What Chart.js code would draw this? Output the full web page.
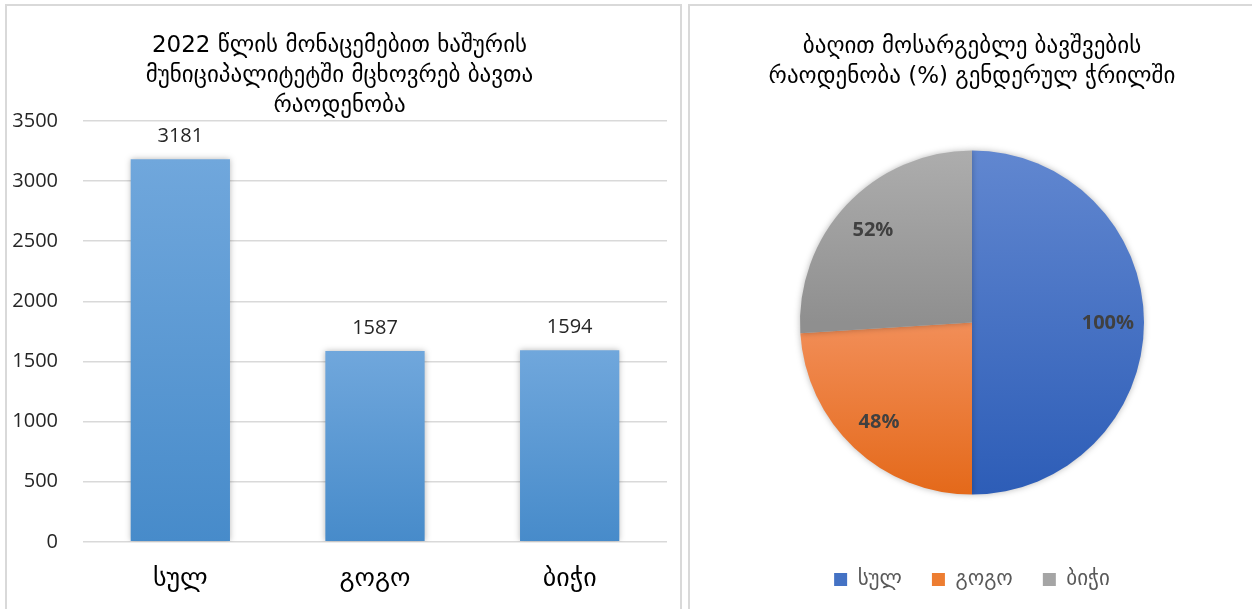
<!DOCTYPE html>
<html>
<head>
<meta charset="utf-8">
<script src="https://cdn.jsdelivr.net/npm/chart.js@4/dist/chart.umd.min.js"></script>
<style>
  html,body{margin:0;padding:0;background:#fff;}
  body{width:1252px;height:609px;overflow:hidden;position:relative;}
  .panel{position:absolute;box-sizing:border-box;border:2px solid #d9d9d9;}
  #leftPanel{left:5px;top:4px;width:677px;height:650px;}
  #rightPanel{left:688px;top:4px;width:620px;height:650px;}
  canvas{position:absolute;top:0;}
  #barChart{left:0;}
  #pieChart{left:686px;}
</style>
</head>
<body>
<div class="panel" id="leftPanel"></div>
<div class="panel" id="rightPanel"></div>
<canvas id="barChart" width="684" height="609"></canvas>
<canvas id="pieChart" width="572" height="640"></canvas>
<script>
// data
const barTitle = ['2022 წლის მონაცემებით ხაშურის', 'მუნიციპალიტეტში მცხოვრებ ბავთა', 'რაოდენობა'];
const categories = ['სულ', 'გოგო', 'ბიჭი'];
const childCounts = [3181, 1587, 1594];
const yMax = 3500;
const yStep = 500;

const pieTitle = ['ბაღით მოსარგებლე ბავშვების', 'რაოდენობა (%) გენდერულ ჭრილში'];
const pieLabels = ['სულ', 'გოგო', 'ბიჭი'];
const piePercents = [100, 48, 52];

const FONT = "'Open Sans', 'DejaVu Sans', sans-serif";
const GEO = "'DejaVu Sans', 'Open Sans', sans-serif";
const PIE_R = 172;

// soft shadow under bars / slices, like the office chart
const shadowPlugin = {
  id:'softShadow',
  beforeDatasetsDraw(chart){
    const c = chart.ctx; c.save();
    c.shadowColor = 'rgba(0,0,0,0.28)'; c.shadowBlur = 6; c.shadowOffsetX = 0; c.shadowOffsetY = 0;
  },
  afterDatasetsDraw(chart){ chart.ctx.restore(); }
};

// value labels above bars
const barValuePlugin = {
  id:'barValues',
  afterDatasetsDraw(chart){
    const c = chart.ctx;
    const meta = chart.getDatasetMeta(0);
    c.save();
    c.font = '20px ' + FONT; c.fillStyle = '#262626';
    c.textAlign = 'center'; c.textBaseline = 'middle';
    meta.data.forEach((bar,i)=>{ c.fillText(String(childCounts[i]), bar.x, bar.y - 23); });
    c.restore();
  }
};

// percent labels inside slices
const pieValuePlugin = {
  id:'pieValues',
  afterDatasetsDraw(chart){
    const c = chart.ctx;
    const meta = chart.getDatasetMeta(0);
    c.save();
    c.font = 'bold 20px ' + FONT; c.fillStyle = '#404040';
    c.textAlign = 'center'; c.textBaseline = 'middle';
    meta.data.forEach((arc,i)=>{
      const mid = (arc.startAngle + arc.endAngle)/2;
      const r = arc.outerRadius*0.79;
      c.fillText(piePercents[i] + '%', arc.x + Math.cos(mid)*r, arc.y + Math.sin(mid)*r + 1);
    });
    c.restore();
  }
};

function barFill(ctx){
  const chart = ctx.chart;
  if(!chart.chartArea || !chart.scales.y) return '#5b9bd5';
  const ys = chart.scales.y;
  const top = ys.getPixelForValue(childCounts[ctx.dataIndex]);
  const bottom = ys.getPixelForValue(0);
  const g = chart.ctx.createLinearGradient(0, top, 0, bottom);
  g.addColorStop(0, '#70a7dc');
  g.addColorStop(1, '#478bca');
  return g;
}

const pieGrad = [['#6187d0','#2d5db7'], ['#f28e58','#e4691a'], ['#adadad','#8f8f8f']];
function pieFill(ctx){
  const chart = ctx.chart;
  const a = chart.chartArea;
  const flat = ['#4472c4','#ed7d31','#a5a5a5'][ctx.dataIndex];
  if(!a) return flat;
  const cy = (a.top + a.bottom)/2;
  let y0 = cy - PIE_R, y1 = cy + PIE_R;
  if(ctx.dataIndex === 1) y0 = cy;
  if(ctx.dataIndex === 2) y1 = cy;
  const g = chart.ctx.createLinearGradient(0, y0, 0, y1);
  g.addColorStop(0, pieGrad[ctx.dataIndex][0]);
  g.addColorStop(1, pieGrad[ctx.dataIndex][1]);
  return g;
}

function renderBar(){
  new Chart(document.getElementById('barChart').getContext('2d'), {
    type:'bar',
    data:{labels:categories, datasets:[{data:childCounts, backgroundColor:barFill, borderWidth:0, categoryPercentage:1, barPercentage:0.51}]},
    options:{
      responsive:false, animation:false,
      layout:{padding:{left:12, right:17, top:0, bottom:0}},
      plugins:{
        legend:{display:false}, tooltip:{enabled:false},
        title:{display:true, text:barTitle, color:'#000', font:{family:GEO, size:23, weight:'normal', lineHeight:30/23}, padding:{top:31, bottom:0}}
      },
      scales:{
        x:{grid:{display:false}, border:{display:false},
           ticks:{padding:14, color:'#000', font:{family:GEO, size:26}}},
        y:{min:0, max:yMax, border:{display:false},
           grid:{color:'#d9d9d9', lineWidth:1.5, drawTicks:false},
           afterFit(scale){ scale.width = 71; },
           ticks:{stepSize:yStep, padding:25, color:'#262626', font:{family:FONT, size:20}, callback:v=>String(v)}}
      }
    },
    plugins:[shadowPlugin, barValuePlugin]
  });
}

function renderPie(){
  new Chart(document.getElementById('pieChart').getContext('2d'), {
    type:'pie',
    data:{labels:pieLabels, datasets:[{data:piePercents, backgroundColor:pieFill, borderWidth:0, radius:PIE_R}]},
    options:{
      responsive:false, animation:false,
      layout:{padding:{left:0, right:0, top:0, bottom:40}},
      plugins:{
        tooltip:{enabled:false},
        title:{display:true, text:pieTitle, color:'#000', font:{family:GEO, size:23, weight:'normal', lineHeight:30/23}, padding:{top:32, bottom:14}},
        legend:{position:'bottom', labels:{
          boxWidth:13, boxHeight:13, padding:30, color:'#595959', font:{family:GEO, size:21},
          generateLabels(chart){
            const flat = ['#4472c4','#ed7d31','#a5a5a5'];
            return Chart.overrides.pie.plugins.legend.labels.generateLabels(chart).map((l,i)=>Object.assign(l,{fillStyle:flat[i], strokeStyle:flat[i], lineWidth:0}));
          }
        }}
      }
    },
    plugins:[shadowPlugin, pieValuePlugin]
  });
}

window.addEventListener('DOMContentLoaded', ()=>{ renderBar(); renderPie(); });
</script>
</body>
</html>
